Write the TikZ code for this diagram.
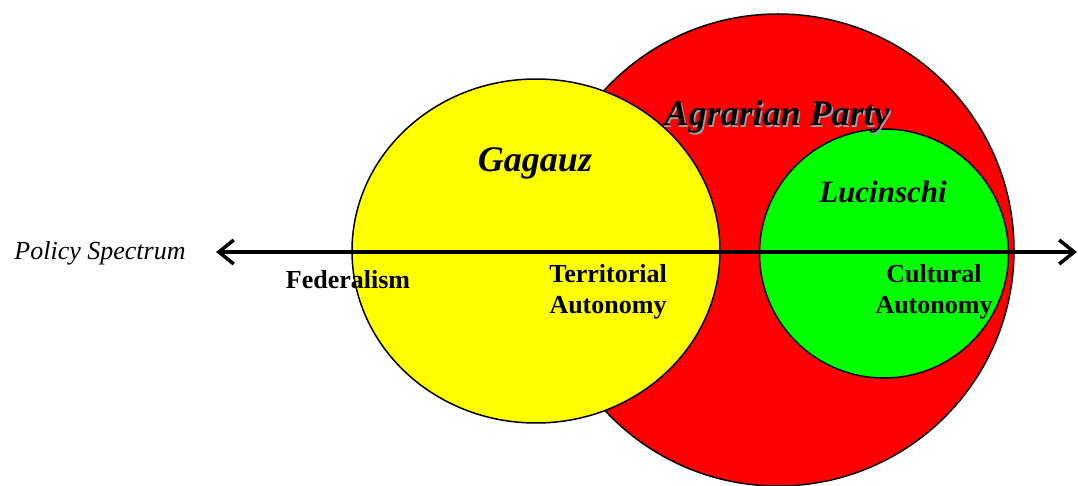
\documentclass[tikz,border=0pt]{standalone}
\usepackage{fontspec}
\setmainfont{Liberation Serif}
\usetikzlibrary{arrows.meta,shapes.geometric}
\definecolor{cred}{HTML}{FF0000}
\definecolor{cyel}{HTML}{FFFF00}
\definecolor{cgrn}{HTML}{00FF00}
\definecolor{shadowgray}{HTML}{A0A0A0}
\tikzset{
  blob/.style={draw=black, line width=1.5pt, inner sep=0pt, outer sep=0pt},
  big/.style={font=\fontsize{36}{40}\selectfont\bfseries\itshape, anchor=base, inner sep=0pt},
  mid/.style={font=\fontsize{31}{36}\selectfont\bfseries\itshape, anchor=base, inner sep=0pt},
  lab/.style={font=\fontsize{26}{30}\selectfont\bfseries, anchor=base, inner sep=0pt},
  axislab/.style={font=\fontsize{26}{30}\selectfont\itshape, anchor=base, inner sep=0pt},
  spectrum/.style={line width=3.5pt, {Straight Barb[length=15pt,width=24pt]}-{Straight Barb[length=15pt,width=24pt]}}
}
\begin{document}
\begin{tikzpicture}[x=1pt,y=-1pt]
\useasboundingbox (0,0) rectangle (1078,486);
% circles
\node[blob, circle, fill=cred, minimum size=472pt] (agrarian) at (778,250) {};
\node[blob, ellipse, fill=cyel, minimum width=368pt, minimum height=344pt] (gagauz) at (536,251) {};
\node[blob, circle, fill=cgrn, minimum size=249pt] (lucinschi) at (884,253.5) {};
% axis
\coordinate (axL) at (216,252);
\coordinate (axR) at (1077,252);
\draw[spectrum] (axL) -- (axR);
% titles
\node[big, text=shadowgray] (agrS) at (778.5,127.5) {Agrarian Party};
\node[big] (agrT) at (777,126) {Agrarian Party};
\node[big] (gagT) at (535,172) {Gagauz};
\node[mid] (lucT) at (883,203) {Lucinschi};
% labels
\node[axislab] (pol) at (100,259) {Policy Spectrum};
\node[lab] (fed) at (348,288) {Federalism};
\node[lab] (ter1) at (608,283) {Territorial};
\node[lab] (ter2) at (608,313) {Autonomy};
\node[lab] (cul1) at (934,283) {Cultural};
\node[lab] (cul2) at (934,313) {Autonomy};
\end{tikzpicture}
\end{document}
